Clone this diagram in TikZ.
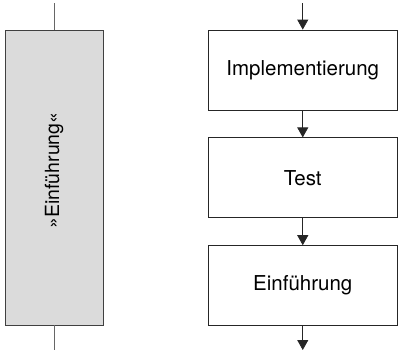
\documentclass[tikz,border=0pt]{standalone}
\usepackage{fontspec}
\setmainfont{TeX Gyre Heros}
\usetikzlibrary{positioning, arrows.meta}
\tikzset{
    phase box/.style={rectangle, draw=black!85, line width=0.8pt, minimum width=189.5pt, minimum height=80pt, inner sep=0pt, align=center, font=\fontsize{20.5}{24}\selectfont},
    era box/.style={rectangle, draw=black!75, fill=black!14, line width=0.8pt, minimum width=98pt, minimum height=295pt, inner sep=0pt, font=\fontsize{19.5}{23}\selectfont},
    flow/.style={-{Triangle[length=10pt, width=11pt]}, line width=0.8pt, draw=black!85},
    era line/.style={line width=0.8pt, draw=black!60},
}
\begin{document}
\begin{tikzpicture}[x=1pt, y=1pt, node distance=27pt]
\useasboundingbox (0,0) rectangle (398,-351);
% left: phase as a whole
\node[era box] (era) at (54,-177.5) {};
\node[rotate=90, font=\fontsize{19.5}{23}\selectfont, inner sep=0pt] (eralabel) at ([yshift=7pt]era.center) {»Einführung«};
\coordinate (eratop) at (54,-3);
\coordinate (erabot) at (54,-350);
\draw[era line] (eratop) -- (era.north);
\draw[era line] (era.south) -- (erabot);
% right: single steps
\node[phase box] (impl) at (302.75,-70) {Implementierung};
\node[phase box, below=of impl] (test) {Test};
\node[phase box, below=of test] (einf) {Einführung};
\coordinate (intop) at (impl.north |- 0,-3);
\coordinate (outbot) at (einf.south |- 0,-350);
\draw[flow] (intop) -- (impl);
\draw[flow] (impl) -- (test);
\draw[flow] (test) -- (einf);
\draw[flow] (einf) -- (outbot);
\end{tikzpicture}
\end{document}
